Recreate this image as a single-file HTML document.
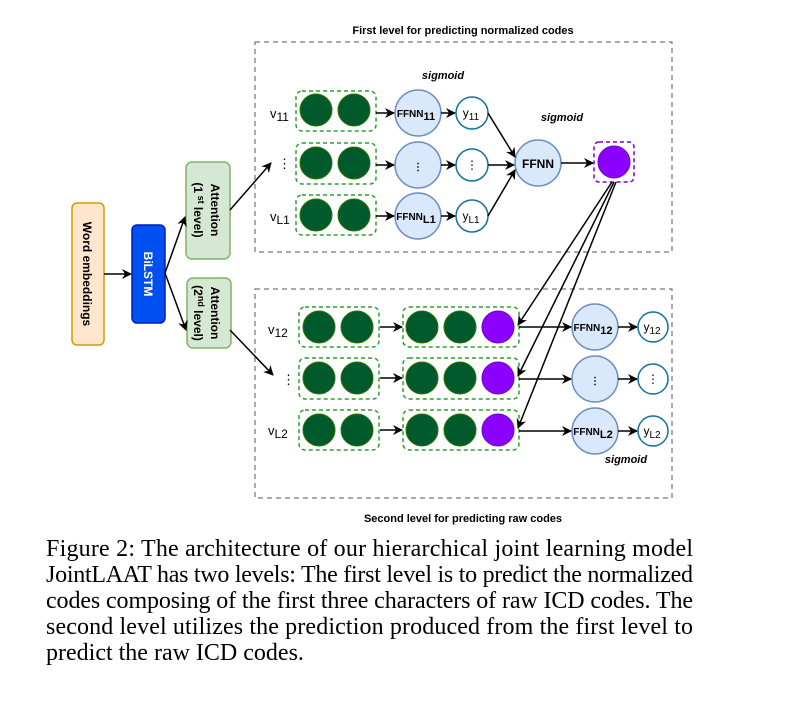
<!DOCTYPE html>
<html><head><meta charset="utf-8"><style>
html,body{margin:0;padding:0;background:#fff;width:795px;height:703px;overflow:hidden}
svg{display:block}
.t{font-family:"Liberation Sans",sans-serif}
.c{font-family:"Liberation Serif",serif;font-size:24px;fill:#000}
</style></head><body>
<svg width="795" height="703" viewBox="0 0 795 703" xmlns="http://www.w3.org/2000/svg">
<defs>
<marker id="a" markerWidth="10" markerHeight="10" refX="9" refY="5" orient="auto" markerUnits="userSpaceOnUse">
<path d="M0,0 L10,5 L0,10 L3,5 z" fill="#000"/></marker>
</defs>
<g class="t">
<text x="463" y="34" font-size="11" font-weight="bold" text-anchor="middle">First level for predicting normalized codes</text>
<text x="463" y="522" font-size="11" font-weight="bold" text-anchor="middle">Second level for predicting raw codes</text>
</g>
<rect x="255" y="42" width="417" height="210" fill="none" stroke="#555" stroke-dasharray="5,4"/>
<rect x="255" y="289" width="417" height="209" fill="none" stroke="#555" stroke-dasharray="5,4"/>

<rect x="72" y="203" width="32" height="142" rx="5" fill="#ffe6cc" stroke="#d79b00" stroke-width="1.5"/>
<text class="t" transform="translate(83,274) rotate(90)" font-size="12" font-weight="bold" text-anchor="middle">Word embeddings</text>
<rect x="132" y="225" width="33" height="98" rx="5" fill="#0050ef" stroke="#001dbc" stroke-width="1.5"/>
<text class="t" transform="translate(144,274) rotate(90)" font-size="12" font-weight="bold" fill="#fff" text-anchor="middle">BiLSTM</text>
<rect x="186" y="162" width="44" height="97" rx="6" fill="#d5e8d4" stroke="#82b366" stroke-width="1.5"/>
<text class="t" transform="translate(211,210) rotate(90)" font-size="12" font-weight="bold" text-anchor="middle">Attention</text>
<text class="t" transform="translate(194,210) rotate(90)" font-size="12" font-weight="bold" text-anchor="middle">(1<tspan font-size="9" dy="-4"> st</tspan><tspan dy="4"> level)</tspan></text>
<rect x="187" y="278" width="44" height="70" rx="6" fill="#d5e8d4" stroke="#82b366" stroke-width="1.5"/>
<text class="t" transform="translate(211,313) rotate(90)" font-size="12" font-weight="bold" text-anchor="middle">Attention</text>
<text class="t" transform="translate(194,313) rotate(90)" font-size="12" font-weight="bold" text-anchor="middle">(2<tspan font-size="9" dy="-4">nd</tspan><tspan dy="4"> level)</tspan></text>

<g stroke="#000" stroke-width="1.5" fill="none">
<line x1="104" y1="274" x2="131" y2="274" marker-end="url(#a)"/>
<line x1="165" y1="273" x2="185" y2="217" marker-end="url(#a)"/>
<line x1="165" y1="273" x2="186" y2="330" marker-end="url(#a)"/>
<line x1="230" y1="210" x2="271" y2="163" marker-end="url(#a)"/>
<line x1="230" y1="330" x2="273" y2="375" marker-end="url(#a)"/>
</g>

<g class="t" font-size="13">
<text x="270" y="118">v<tspan font-size="12" dy="3">11</tspan></text>
<text x="278" y="168">⋮</text>
<text x="270" y="221">v<tspan font-size="12" dy="3">L1</tspan></text>
<text x="268" y="334">v<tspan font-size="12" dy="3">12</tspan></text>
<text x="282" y="384">⋮</text>
<text x="268" y="435">v<tspan font-size="12" dy="3">L2</tspan></text>
<text x="443" y="79" font-size="11" font-weight="bold" font-style="italic" text-anchor="middle">sigmoid</text>
<text x="562" y="121" font-size="11" font-weight="bold" font-style="italic" text-anchor="middle">sigmoid</text>
<text x="626" y="463" font-size="11" font-weight="bold" font-style="italic" text-anchor="middle">sigmoid</text>
</g>

<g fill="#005a2b" stroke="#2d7600">
<circle cx="316" cy="110" r="16"/><circle cx="354" cy="110" r="16"/>
<circle cx="316" cy="163" r="16"/><circle cx="354" cy="163" r="16"/>
<circle cx="316" cy="215" r="16"/><circle cx="354" cy="215" r="16"/>
</g>
<g fill="none" stroke="#2ca02c" stroke-width="1.5" stroke-dasharray="4,3">
<rect x="296" y="91" width="80" height="40" rx="6"/>
<rect x="296" y="143" width="80" height="41" rx="6"/>
<rect x="296" y="195" width="80" height="40" rx="6"/>
</g>
<g fill="#dae8fc" stroke="#6c8ebf" stroke-width="1.5">
<circle cx="418" cy="113" r="23"/><circle cx="418" cy="165" r="23"/><circle cx="418" cy="216" r="23"/>
<circle cx="538" cy="163" r="23"/>
</g>
<g fill="#fff" stroke="#10739e" stroke-width="1.5">
<circle cx="472" cy="113" r="16"/><circle cx="472" cy="165" r="16"/><circle cx="472" cy="216" r="16"/>
</g>
<rect x="594" y="142" width="40" height="40" rx="5" fill="none" stroke="#7a00cc" stroke-width="1.5" stroke-dasharray="4,3"/>
<circle cx="614" cy="162" r="16" fill="#8c00ff" stroke="#7000cc"/>
<g class="t" font-weight="bold" font-size="10" text-anchor="middle">
<text x="416" y="117">FFNN<tspan font-size="11" dy="3">11</tspan></text>
<text x="418" y="170">⋮</text>
<text x="416" y="220">FFNN<tspan font-size="11" dy="3">L1</tspan></text>
<text x="538" y="168" font-size="12">FFNN</text>
</g>
<g class="t" font-size="12" text-anchor="middle">
<text x="471" y="117">y<tspan font-size="10" dy="3">11</tspan></text>
<text x="472" y="169">⋮</text>
<text x="471" y="220">y<tspan font-size="10" dy="3">L1</tspan></text>
</g>
<g stroke="#000" stroke-width="1.5" fill="none">
<line x1="376" y1="113" x2="394" y2="113" marker-end="url(#a)"/>
<line x1="376" y1="165" x2="394" y2="165" marker-end="url(#a)"/>
<line x1="376" y1="216" x2="394" y2="216" marker-end="url(#a)"/>
<line x1="441" y1="113" x2="455" y2="113" marker-end="url(#a)"/>
<line x1="441" y1="165" x2="455" y2="165" marker-end="url(#a)"/>
<line x1="441" y1="216" x2="455" y2="216" marker-end="url(#a)"/>
<line x1="488" y1="113" x2="515" y2="157" marker-end="url(#a)"/>
<line x1="488" y1="165" x2="514" y2="165" marker-end="url(#a)"/>
<line x1="488" y1="216" x2="515" y2="170" marker-end="url(#a)"/>
<line x1="561" y1="163" x2="593" y2="163" marker-end="url(#a)"/>
</g>

<g fill="#005a2b" stroke="#2d7600">
<circle cx="319" cy="327" r="16"/><circle cx="357" cy="327" r="16"/>
<circle cx="319" cy="378" r="16"/><circle cx="357" cy="378" r="16"/>
<circle cx="319" cy="430" r="16"/><circle cx="357" cy="430" r="16"/>
<circle cx="422" cy="327" r="16"/><circle cx="460" cy="327" r="16"/>
<circle cx="422" cy="378" r="16"/><circle cx="460" cy="378" r="16"/>
<circle cx="422" cy="430" r="16"/><circle cx="460" cy="430" r="16"/>
</g>
<g fill="#8c00ff" stroke="#7000cc">
<circle cx="498" cy="327" r="16"/><circle cx="498" cy="378" r="16"/><circle cx="498" cy="430" r="16"/>
</g>
<g fill="none" stroke="#2ca02c" stroke-width="1.5" stroke-dasharray="4,3">
<rect x="299" y="307" width="80" height="40" rx="6"/>
<rect x="299" y="358" width="80" height="41" rx="6"/>
<rect x="299" y="410" width="80" height="40" rx="6"/>
<rect x="403" y="307" width="116" height="40" rx="6"/>
<rect x="403" y="358" width="116" height="41" rx="6"/>
<rect x="403" y="410" width="116" height="40" rx="6"/>
</g>
<g fill="#dae8fc" stroke="#6c8ebf" stroke-width="1.5">
<circle cx="595" cy="327" r="23"/><circle cx="595" cy="379" r="23"/><circle cx="595" cy="431" r="23"/>
</g>
<g fill="#fff" stroke="#10739e" stroke-width="1.5">
<circle cx="653" cy="327" r="15"/><circle cx="653" cy="379" r="15"/><circle cx="653" cy="431" r="15"/>
</g>
<g class="t" font-weight="bold" font-size="10" text-anchor="middle">
<text x="593" y="331">FFNN<tspan font-size="11" dy="3">12</tspan></text>
<text x="595" y="384">⋮</text>
<text x="593" y="435">FFNN<tspan font-size="11" dy="3">L2</tspan></text>
</g>
<g class="t" font-size="12" text-anchor="middle">
<text x="652" y="331">y<tspan font-size="10" dy="3">12</tspan></text>
<text x="653" y="383">⋮</text>
<text x="652" y="435">y<tspan font-size="10" dy="3">L2</tspan></text>
</g>
<g stroke="#000" stroke-width="1.5" fill="none">
<line x1="380" y1="327" x2="402" y2="327" marker-end="url(#a)"/>
<line x1="380" y1="378" x2="402" y2="378" marker-end="url(#a)"/>
<line x1="380" y1="430" x2="402" y2="430" marker-end="url(#a)"/>
<line x1="519" y1="327" x2="571" y2="327" marker-end="url(#a)"/>
<line x1="519" y1="379" x2="571" y2="379" marker-end="url(#a)"/>
<line x1="519" y1="431" x2="571" y2="431" marker-end="url(#a)"/>
<line x1="618" y1="327" x2="637" y2="327" marker-end="url(#a)"/>
<line x1="618" y1="379" x2="637" y2="379" marker-end="url(#a)"/>
<line x1="618" y1="431" x2="637" y2="431" marker-end="url(#a)"/>
<line x1="612" y1="182" x2="518" y2="325" marker-end="url(#a)"/>
<line x1="614" y1="182" x2="518" y2="376" marker-end="url(#a)"/>
<line x1="616" y1="182" x2="518" y2="428" marker-end="url(#a)"/>
</g>

<text class="c" x="46" y="556" textLength="647" lengthAdjust="spacing">Figure 2: The architecture of our hierarchical joint learning model</text>
<text class="c" x="46" y="582" textLength="647" lengthAdjust="spacing">JointLAAT has two levels: The first level is to predict the normalized</text>
<text class="c" x="46" y="608" textLength="647" lengthAdjust="spacing">codes composing of the first three characters of raw ICD codes. The</text>
<text class="c" x="46" y="634" textLength="647" lengthAdjust="spacing">second level utilizes the prediction produced from the first level to</text>
<text class="c" x="46" y="660">predict the raw ICD codes.</text>
</svg>
</body></html>
